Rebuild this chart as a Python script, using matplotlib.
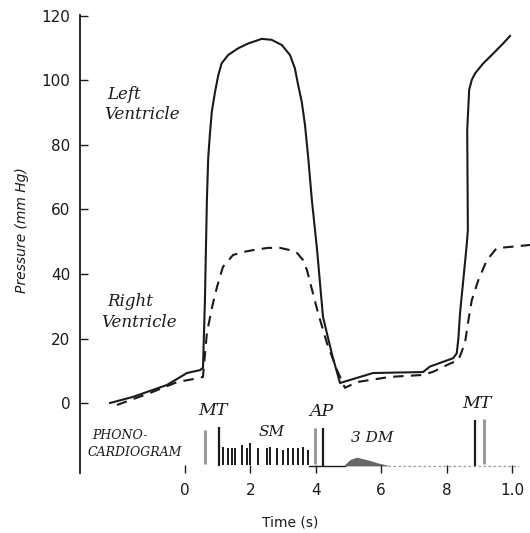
import numpy as np
import matplotlib.pyplot as plt

# Pressure traces (time in s, pressure in mm Hg)
lv_t = [-0.229, -0.159, -0.055, 0.006, 0.046, 0.055, 0.061, 0.064, 0.067, 0.071,
        0.076, 0.082, 0.092, 0.102, 0.112, 0.132, 0.163, 0.194, 0.235, 0.265,
        0.296, 0.321, 0.336, 0.346, 0.357, 0.367, 0.377, 0.388, 0.404, 0.422,
        0.450, 0.474, 0.575, 0.728, 0.749, 0.790, 0.820, 0.831, 0.836, 0.841,
        0.846, 0.851, 0.856, 0.861, 0.865, 0.864, 0.863, 0.869, 0.877, 0.887,
        0.912, 0.943, 0.973, 0.994]
lv_p = [0.0, 1.9, 5.6, 9.3, 10.2, 10.9, 31.9, 47.4, 62.9, 75.9,
        83.1, 90.3, 96.5, 101.7, 105.3, 107.9, 110.0, 111.5, 112.9, 112.6,
        111.0, 107.9, 103.8, 98.6, 93.4, 86.2, 75.9, 62.9, 47.4, 26.7,
        14.9, 6.2, 9.3, 9.6, 11.3, 12.8, 13.9, 15.4, 20.0, 27.8,
        33.0, 38.1, 43.3, 48.5, 53.6, 69.0, 84.7, 97.1, 100.2, 102.2,
        105.3, 108.4, 111.5, 113.8]

rv_t = [-0.208, -0.107, -0.024, 0.046, 0.055, 0.067, 0.083, 0.098, 0.116, 0.147,
        0.177, 0.208, 0.254, 0.291, 0.321, 0.343, 0.361, 0.373, 0.391, 0.407,
        0.434, 0.465, 0.489, 0.526, 0.627, 0.728, 0.759, 0.810, 0.836, 0.856,
        0.866, 0.877, 0.897, 0.923, 0.953, 1.004, 1.055]
rv_p = [-0.6, 3.1, 6.5, 7.8, 8.1, 21.7, 29.8, 36.0, 42.2, 45.9,
        46.8, 47.4, 48.1, 48.1, 47.4, 46.5, 44.3, 41.2, 34.1, 27.9,
        18.6, 10.2, 4.7, 6.5, 8.1, 8.7, 9.7, 12.2, 13.3, 18.5,
        25.2, 31.9, 38.1, 44.3, 48.0, 48.5, 49.0]

# Phonocardiogram (drawn in the strip below 0 mm Hg)
phono_base = -19.5
sm_t = [0.117, 0.133, 0.143, 0.153, 0.173, 0.189, 0.199, 0.224, 0.250, 0.260,
        0.280, 0.301, 0.316, 0.331, 0.347, 0.362, 0.377]
sm_top = [-13.5, -14.1, -14.1, -14.1, -13.0, -14.1, -12.5, -14.1, -14.1, -13.5,
          -14.1, -14.6, -14.1, -14.1, -14.1, -13.5, -14.6]
sound_t = [0.105, 0.423, 0.887]          # MT, AP, MT (black)
sound_top = [-7.4, -7.8, -5.3]
echo_t = [0.061, 0.398, 0.914]           # faint companions (grey)
echo_top = [-8.4, -7.8, -5.0]
dm_t = [0.489, 0.505, 0.525, 0.545, 0.565, 0.590, 0.621]
dm_top = [-19.0, -17.5, -16.8, -17.3, -17.8, -18.6, -19.3]

xticks = [0, 0.2, 0.4, 0.6, 0.8, 1.0]
xtick_labels = ["0", "2", "4", "6", "8", "1.0"]
yticks = [0, 20, 40, 60, 80, 100, 120]

ink = "#1a1a1a"
serif = "DejaVu Serif"

fig = plt.figure(figsize=(5.3, 5.33), dpi=100)
ax = fig.add_axes([80 / 530, 60 / 533, 450 / 530, 458 / 533])

ax.plot(lv_t, lv_p, color=ink, lw=1.5, solid_joinstyle="round")
ax.plot(rv_t, rv_p, color=ink, lw=1.5, linestyle=(0, (5, 3.5)))

# phonocardiogram strip
ax.vlines(sm_t, phono_base + 0.3, sm_top, color=ink, lw=1.4)
ax.vlines(sound_t, phono_base, sound_top, color=ink, lw=1.6)
ax.vlines(echo_t, phono_base + 0.5, echo_top, color="#9a9a9a", lw=2.2)
ax.fill_between(dm_t, phono_base, dm_top, color="#666666", lw=0)
ax.plot([0.38, 0.49], [phono_base, phono_base], color=ink, lw=1.0)
ax.plot([0.62, 1.02], [phono_base, phono_base], color="#999999", lw=0.9,
        linestyle=(0, (2, 2)))

# labels
lab = dict(style="italic", family=serif, color=ink, va="center")
ax.text(-0.239, 95.8, "Left", fontsize=12, **lab)
ax.text(-0.248, 89.3, "Ventricle", fontsize=12, **lab)
ax.text(-0.239, 31.6, "Right", fontsize=12, **lab)
ax.text(-0.256, 25.1, "Ventricle", fontsize=12, **lab)
ax.text(0.086, -2.2, "MT", fontsize=12.5, ha="center", **lab)
ax.text(0.266, -9.0, "SM", fontsize=11, ha="center", **lab)
ax.text(0.416, -2.5, "AP", fontsize=12.5, ha="center", **lab)
ax.text(0.572, -10.9, "3 DM", fontsize=11, ha="center", **lab)
ax.text(0.893, 0.0, "MT", fontsize=12.5, ha="center", **lab)
ax.text(-0.284, -10.2, "PHONO-", fontsize=9, **lab)
ax.text(-0.297, -15.2, "CARDIOGRAM", fontsize=9, **lab)

ax.set_xlim(-0.321, 1.055)
ax.set_ylim(-21.7, 120.3)
ax.set_xticks(xticks)
ax.set_xticklabels(xtick_labels)
ax.set_yticks(yticks)
for s in ["top", "right", "bottom"]:
    ax.spines[s].set_visible(False)
ax.spines["left"].set_color(ink)
ax.spines["left"].set_linewidth(1.3)
ax.tick_params(axis="y", direction="in", length=6, width=1, pad=7,
               labelsize=11, colors=ink)
ax.tick_params(axis="x", direction="in", length=6, width=1, pad=7,
               labelsize=11, colors=ink)

fig.text(22 / 530, 1 - 230 / 533, "Pressure (mm Hg)", rotation=90,
         fontsize=10, style="italic", color=ink, ha="center", va="center")
fig.text(290 / 530, 1 - 522 / 533, "Time (s)", fontsize=10, color=ink,
         ha="center", va="center")

fig.savefig("out.png", dpi=100)
